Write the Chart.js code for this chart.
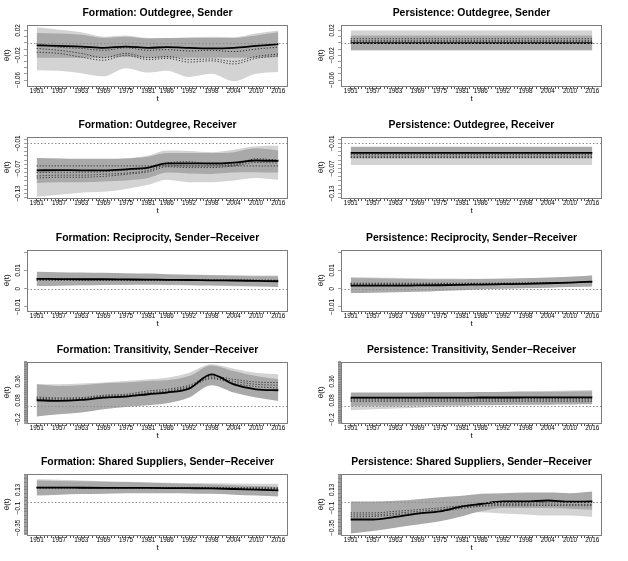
<!DOCTYPE html>
<html>
<head>
<meta charset="utf-8">
<script src="https://cdn.jsdelivr.net/npm/chart.js@4.4.1/dist/chart.umd.min.js"></script>
<style>
  body { margin: 0; background: #fff; }
  #wrap { position: relative; width: 628px; height: 561px; }
  #wrap canvas { position: absolute; }
</style>
</head>
<body>
<div id="wrap"></div>
<script>
// time points and labelled years
const YEARS = [1951, 1957, 1963, 1969, 1975, 1981, 1986, 1992, 1998, 2004, 2010, 2016];
const TICK_YEARS = [1951, 1957, 1963, 1969, 1975, 1981, 1986, 1992, 1998, 2004, 2010, 2016];

const TITLES = [
  'Formation: Outdegree, Sender', 'Persistence: Outdegree, Sender',
  'Formation: Outdegree, Receiver', 'Persistence: Outdegree, Receiver',
  'Formation: Reciprocity, Sender\u2212Receiver', 'Persistence: Reciprocity, Sender\u2212Receiver',
  'Formation: Transitivity, Sender\u2212Receiver', 'Persistence: Transitivity, Sender\u2212Receiver',
  'Formation: Shared Suppliers, Sender\u2212Receiver', 'Persistence: Shared Suppliers, Sender\u2212Receiver'
];

// y axis per row
const Y_MIN = [-0.0696, -0.1407, -0.0122, -0.25, -0.443];
const Y_MAX = [0.0296, 0.0064, 0.0215, 0.65, 0.339];
const Y_LABELS = [[0.02, -0.02, -0.06], [-0.01, -0.07, -0.13], [0.01, 0, -0.01], [0.36, 0.08, -0.2], [0.13, -0.1, -0.35]];
const REF_LINE = [0, -0.01, 0, 0, -0.02];

// Formation: Outdegree, Sender
const fOsLightHi = [0.025, 0.021, 0.017, 0.010, 0.012, 0.008, 0.008, 0.009, 0.010, 0.009, 0.015, 0.020];
const fOsDarkHi  = [0.016, 0.015, 0.013, 0.008, 0.010, 0.007, 0.008, 0.008, 0.008, 0.008, 0.012, 0.017];
const fOsEst     = [-0.004, -0.005, -0.006, -0.008, -0.006, -0.008, -0.007, -0.008, -0.009, -0.008, -0.005, -0.002];
const fOsDarkLo  = [-0.024, -0.024, -0.024, -0.024, -0.023, -0.024, -0.024, -0.024, -0.024, -0.024, -0.024, -0.023];
const fOsLightLo = [-0.044, -0.045, -0.049, -0.054, -0.041, -0.048, -0.045, -0.055, -0.050, -0.062, -0.050, -0.047];
const fOsDot1 = [-0.001, -0.007, -0.009, -0.012, -0.008, -0.012, -0.011, -0.013, -0.012, -0.014, -0.010, -0.007];
const fOsDot2 = [-0.009, -0.012, -0.017, -0.024, -0.017, -0.024, -0.022, -0.027, -0.026, -0.030, -0.022, -0.018];
const fOsDot3 = [-0.015, -0.017, -0.023, -0.028, -0.020, -0.027, -0.025, -0.031, -0.029, -0.034, -0.025, -0.021];

// Persistence: Outdegree, Sender
const pOsLightHi = [0.020, 0.020, 0.020, 0.020, 0.020, 0.020, 0.020, 0.020, 0.020, 0.020, 0.020, 0.020];
const pOsDarkHi  = [0.012, 0.012, 0.012, 0.012, 0.012, 0.012, 0.012, 0.012, 0.012, 0.012, 0.012, 0.012];
const pOsEst     = [-0.0005, -0.0005, -0.0005, -0.0005, -0.0005, -0.0005, -0.0005, -0.0005, -0.0005, -0.0005, -0.0005, -0.0005];
const pOsDarkLo  = [-0.012, -0.012, -0.012, -0.012, -0.012, -0.012, -0.012, -0.012, -0.012, -0.012, -0.012, -0.012];
const pOsLightLo = [-0.012, -0.012, -0.012, -0.012, -0.012, -0.012, -0.012, -0.012, -0.012, -0.012, -0.012, -0.012];
const pOsDot1 = [0.0067, 0.0067, 0.0067, 0.0067, 0.0067, 0.0067, 0.0067, 0.0067, 0.0067, 0.0067, 0.0067, 0.0067];
const pOsDot2 = [0.0040, 0.0040, 0.0040, 0.0040, 0.0040, 0.0040, 0.0040, 0.0040, 0.0040, 0.0040, 0.0040, 0.0040];
const pOsDot3 = [0.0019, 0.0019, 0.0019, 0.0019, 0.0019, 0.0019, 0.0019, 0.0019, 0.0019, 0.0019, 0.0019, 0.0019];

// Formation: Outdegree, Receiver
const fOrLightHi = [-0.046, -0.047, -0.048, -0.048, -0.046, -0.039, -0.027, -0.028, -0.031, -0.025, -0.017, -0.016];
const fOrDarkHi  = [-0.045, -0.046, -0.047, -0.047, -0.046, -0.042, -0.033, -0.033, -0.033, -0.031, -0.022, -0.027];
const fOrEst     = [-0.0745, -0.074, -0.0745, -0.0745, -0.072, -0.068, -0.058, -0.058, -0.058, -0.056, -0.051, -0.052];
const fOrDarkLo  = [-0.105, -0.103, -0.103, -0.101, -0.099, -0.093, -0.080, -0.082, -0.083, -0.080, -0.079, -0.080];
const fOrLightLo = [-0.138, -0.133, -0.128, -0.126, -0.119, -0.109, -0.097, -0.103, -0.103, -0.099, -0.093, -0.097];
const fOrConst = [-0.064, -0.064, -0.064, -0.064, -0.064, -0.064, -0.064, -0.064, -0.064, -0.064, -0.064, -0.064];
const fOrDot1 = [-0.080, -0.079, -0.079, -0.078, -0.074, -0.070, -0.057, -0.054, -0.060, -0.060, -0.047, -0.050];
const fOrDot2 = [-0.088, -0.086, -0.086, -0.084, -0.081, -0.075, -0.062, -0.064, -0.064, -0.062, -0.051, -0.053];
const fOrDot3 = [-0.093, -0.091, -0.091, -0.089, -0.084, -0.078, -0.066, -0.068, -0.068, -0.064, -0.056, -0.057];

// Persistence: Outdegree, Receiver
const pOrLightHi = [-0.020, -0.020, -0.020, -0.020, -0.020, -0.020, -0.020, -0.020, -0.020, -0.020, -0.020, -0.020];
const pOrDarkHi  = [-0.018, -0.018, -0.018, -0.018, -0.018, -0.018, -0.018, -0.018, -0.018, -0.018, -0.018, -0.018];
const pOrEst     = [-0.033, -0.033, -0.033, -0.033, -0.033, -0.033, -0.033, -0.033, -0.033, -0.033, -0.033, -0.033];
const pOrDarkLo  = [-0.046, -0.046, -0.046, -0.046, -0.046, -0.046, -0.046, -0.046, -0.046, -0.046, -0.046, -0.046];
const pOrLightLo = [-0.062, -0.062, -0.062, -0.062, -0.062, -0.062, -0.062, -0.062, -0.062, -0.062, -0.062, -0.062];
const pOrDot1 = [-0.037, -0.037, -0.037, -0.037, -0.037, -0.037, -0.037, -0.037, -0.037, -0.037, -0.037, -0.037];
const pOrDot2 = [-0.041, -0.041, -0.041, -0.041, -0.041, -0.041, -0.041, -0.041, -0.041, -0.041, -0.041, -0.041];
const pOrDot3 = [-0.044, -0.044, -0.044, -0.044, -0.044, -0.044, -0.044, -0.044, -0.044, -0.044, -0.044, -0.044];

// Formation: Reciprocity
const fReLightHi = [0.0085, 0.0083, 0.0081, 0.0080, 0.0079, 0.0078, 0.0077, 0.0076, 0.0075, 0.0074, 0.0073, 0.0072];
const fReDarkHi  = [0.0093, 0.0091, 0.0089, 0.0087, 0.0085, 0.0083, 0.0080, 0.0077, 0.0074, 0.0071, 0.0069, 0.0068];
const fReEst     = [0.0054, 0.0053, 0.0052, 0.0052, 0.0051, 0.0050, 0.0049, 0.0048, 0.0046, 0.0045, 0.0043, 0.0041];
const fReDarkLo  = [0.0015, 0.0017, 0.0019, 0.0021, 0.0022, 0.0023, 0.0022, 0.0021, 0.0019, 0.0016, 0.0013, 0.0010];
const fReLightLo = [0.0022, 0.0022, 0.0022, 0.0021, 0.0021, 0.0020, 0.0019, 0.0018, 0.0016, 0.0014, 0.0012, 0.0010];
const fReDot1 = [0.0050, 0.0050, 0.0049, 0.0049, 0.0048, 0.0048, 0.0047, 0.0046, 0.0045, 0.0044, 0.0043, 0.0042];
const fReDot2 = [0.0046, 0.0046, 0.0046, 0.0046, 0.0046, 0.0046, 0.0046, 0.0045, 0.0045, 0.0045, 0.0045, 0.0045];
const fReDot3 = [0.0056, 0.0055, 0.0054, 0.0053, 0.0052, 0.0051, 0.0050, 0.0049, 0.0049, 0.0048, 0.0048, 0.0047];

// Persistence: Reciprocity
const pReLightHi = [0.0064, 0.0062, 0.0060, 0.0058, 0.0056, 0.0055, 0.0055, 0.0056, 0.0058, 0.0061, 0.0066, 0.0073];
const pReDarkHi  = [0.0059, 0.0057, 0.0055, 0.0053, 0.0052, 0.0052, 0.0053, 0.0055, 0.0057, 0.0060, 0.0065, 0.0072];
const pReEst     = [0.0017, 0.0017, 0.0017, 0.0018, 0.0019, 0.0021, 0.0023, 0.0025, 0.0027, 0.0030, 0.0034, 0.0039];
const pReDarkLo  = [-0.0024, -0.0022, -0.0019, -0.0016, -0.0012, -0.0008, -0.0004, 0.0000, 0.0003, 0.0006, 0.0009, 0.0012];
const pReLightLo = [-0.0020, -0.0018, -0.0016, -0.0013, -0.0010, -0.0006, -0.0002, 0.0002, 0.0005, 0.0008, 0.0011, 0.0014];
const pReDot1 = [0.0030, 0.0030, 0.0030, 0.0030, 0.0030, 0.0030, 0.0030, 0.0031, 0.0032, 0.0033, 0.0035, 0.0037];
const pReDot2 = [0.0026, 0.0026, 0.0026, 0.0026, 0.0027, 0.0027, 0.0028, 0.0029, 0.0030, 0.0032, 0.0034, 0.0036];
const pReDot3 = [0.0022, 0.0022, 0.0022, 0.0023, 0.0024, 0.0025, 0.0026, 0.0027, 0.0029, 0.0031, 0.0033, 0.0036];

// Formation: Transitivity
const fTrLightHi = [0.316, 0.316, 0.327, 0.341, 0.364, 0.389, 0.414, 0.487, 0.608, 0.545, 0.487, 0.462];
const fTrDarkHi  = [0.316, 0.292, 0.302, 0.331, 0.341, 0.364, 0.375, 0.437, 0.593, 0.510, 0.437, 0.389];
const fTrEst     = [0.083, 0.073, 0.087, 0.122, 0.137, 0.171, 0.195, 0.254, 0.462, 0.316, 0.243, 0.229];
const fTrDarkLo  = [-0.155, -0.121, -0.096, -0.048, -0.015, 0.010, 0.039, 0.122, 0.302, 0.195, 0.122, 0.073];
const fTrLightLo = [-0.121, -0.096, -0.073, -0.034, 0.000, 0.025, 0.058, 0.146, 0.316, 0.243, 0.171, 0.146];
const fTrDot1 = [0.131, 0.117, 0.122, 0.156, 0.171, 0.219, 0.243, 0.302, 0.437, 0.389, 0.350, 0.341];
const fTrDot2 = [0.112, 0.102, 0.108, 0.141, 0.156, 0.195, 0.219, 0.283, 0.414, 0.360, 0.316, 0.302];
const fTrDot3 = [0.098, 0.087, 0.098, 0.131, 0.146, 0.181, 0.204, 0.268, 0.399, 0.331, 0.283, 0.262];

// Persistence: Transitivity
const pTrLightHi = [0.180, 0.183, 0.186, 0.190, 0.194, 0.198, 0.203, 0.208, 0.213, 0.218, 0.225, 0.232];
const pTrDarkHi  = [0.195, 0.196, 0.197, 0.198, 0.199, 0.200, 0.202, 0.204, 0.206, 0.208, 0.212, 0.215];
const pTrEst     = [0.120, 0.120, 0.121, 0.121, 0.122, 0.122, 0.123, 0.123, 0.124, 0.124, 0.125, 0.125];
const pTrDarkLo  = [0.000, 0.002, 0.004, 0.006, 0.008, 0.010, 0.012, 0.014, 0.016, 0.018, 0.021, 0.024];
const pTrLightLo = [-0.063, -0.050, -0.038, -0.026, -0.015, -0.005, 0.005, 0.015, 0.025, 0.037, 0.052, 0.068];
const pTrDot1 = [0.108, 0.108, 0.108, 0.108, 0.108, 0.108, 0.108, 0.108, 0.108, 0.108, 0.108, 0.108];
const pTrDot2 = [0.087, 0.087, 0.087, 0.087, 0.087, 0.087, 0.087, 0.087, 0.087, 0.087, 0.087, 0.087];
const pTrDot3 = [0.068, 0.068, 0.068, 0.068, 0.068, 0.068, 0.068, 0.068, 0.068, 0.068, 0.068, 0.068];

// Formation: Shared Suppliers
const fSsLightHi = [0.265, 0.258, 0.250, 0.242, 0.235, 0.228, 0.222, 0.218, 0.215, 0.212, 0.210, 0.210];
const fSsDarkHi  = [0.250, 0.245, 0.240, 0.235, 0.230, 0.222, 0.215, 0.207, 0.198, 0.190, 0.180, 0.172];
const fSsEst     = [0.159, 0.159, 0.158, 0.157, 0.156, 0.155, 0.154, 0.152, 0.149, 0.142, 0.133, 0.125];
const fSsDarkLo  = [0.060, 0.070, 0.078, 0.083, 0.087, 0.088, 0.088, 0.085, 0.080, 0.070, 0.058, 0.046];
const fSsLightLo = [0.075, 0.080, 0.085, 0.088, 0.090, 0.092, 0.093, 0.094, 0.094, 0.093, 0.090, 0.087];
const fSsDot1 = [0.165, 0.164, 0.163, 0.162, 0.161, 0.161, 0.160, 0.160, 0.160, 0.159, 0.158, 0.157];
const fSsDot2 = [0.160, 0.160, 0.160, 0.159, 0.158, 0.157, 0.156, 0.155, 0.154, 0.152, 0.150, 0.148];
const fSsDot3 = [0.154, 0.154, 0.154, 0.154, 0.154, 0.153, 0.152, 0.150, 0.148, 0.145, 0.142, 0.139];

// Persistence: Shared Suppliers
const pSsLightHi = [-0.037, -0.037, -0.029, -0.017, -0.004, 0.013, 0.026, 0.038, 0.038, 0.046, 0.038, 0.026];
const pSsDarkHi  = [-0.017, -0.017, -0.008, 0.013, 0.038, 0.055, 0.080, 0.088, 0.097, 0.097, 0.088, 0.109];
const pSsEst     = [-0.246, -0.246, -0.212, -0.171, -0.142, -0.079, -0.049, -0.017, -0.017, -0.004, -0.020, -0.017];
const pSsDarkLo  = [-0.425, -0.392, -0.350, -0.309, -0.267, -0.204, -0.142, -0.099, -0.099, -0.099, -0.108, -0.121];
const pSsLightLo = [-0.225, -0.212, -0.196, -0.183, -0.171, -0.162, -0.154, -0.171, -0.183, -0.196, -0.196, -0.212];
const pSsDot1 = [-0.162, -0.162, -0.142, -0.121, -0.099, -0.070, -0.049, -0.037, -0.037, -0.029, -0.029, -0.029];
const pSsDot2 = [-0.187, -0.187, -0.167, -0.142, -0.121, -0.087, -0.067, -0.054, -0.054, -0.049, -0.054, -0.054];
const pSsDot3 = [-0.212, -0.208, -0.187, -0.162, -0.142, -0.104, -0.079, -0.070, -0.070, -0.067, -0.070, -0.070];

const PANELS = [
  { lightHi: fOsLightHi, lightLo: fOsLightLo, darkHi: fOsDarkHi, darkLo: fOsDarkLo, est: fOsEst, dots: [fOsDot1, fOsDot2, fOsDot3] },
  { lightHi: pOsLightHi, lightLo: pOsLightLo, darkHi: pOsDarkHi, darkLo: pOsDarkLo, est: pOsEst, dots: [pOsDot1, pOsDot2, pOsDot3] },
  { lightHi: fOrLightHi, lightLo: fOrLightLo, darkHi: fOrDarkHi, darkLo: fOrDarkLo, est: fOrEst, dots: [fOrConst, fOrDot1, fOrDot2, fOrDot3] },
  { lightHi: pOrLightHi, lightLo: pOrLightLo, darkHi: pOrDarkHi, darkLo: pOrDarkLo, est: pOrEst, dots: [pOrDot1, pOrDot2, pOrDot3] },
  { lightHi: fReLightHi, lightLo: fReLightLo, darkHi: fReDarkHi, darkLo: fReDarkLo, est: fReEst, dots: [fReDot1, fReDot2, fReDot3] },
  { lightHi: pReLightHi, lightLo: pReLightLo, darkHi: pReDarkHi, darkLo: pReDarkLo, est: pReEst, dots: [pReDot1, pReDot2, pReDot3] },
  { lightHi: fTrLightHi, lightLo: fTrLightLo, darkHi: fTrDarkHi, darkLo: fTrDarkLo, est: fTrEst, dots: [fTrDot1, fTrDot2, fTrDot3] },
  { lightHi: pTrLightHi, lightLo: pTrLightLo, darkHi: pTrDarkHi, darkLo: pTrDarkLo, est: pTrEst, dots: [pTrDot1, pTrDot2, pTrDot3] },
  { lightHi: fSsLightHi, lightLo: fSsLightLo, darkHi: fSsDarkHi, darkLo: fSsDarkLo, est: fSsEst, dots: [fSsDot1, fSsDot2, fSsDot3] },
  { lightHi: pSsLightHi, lightLo: pSsLightLo, darkHi: pSsDarkHi, darkLo: pSsDarkLo, est: pSsEst, dots: [pSsDot1, pSsDot2, pSsDot3] }
];

const FONT = '"Liberation Sans", Arial, Helvetica, sans-serif';
const ROW_TOP = [0, 112, 225, 337, 449];
const LIGHT = '#d3d3d3';
const DARK = '#a9a9a9';

const toPts = arr => YEARS.map((x, i) => ({ x: x, y: arr[i] }));

// box, title, rotated y labels and reference line, drawn R-style
const panelDecor = {
  id: 'panelDecor',
  afterDatasetsDraw(chart, args, opts) {
    const { ctx, chartArea: a, scales: { y } } = chart;
    const ry = Math.round(y.getPixelForValue(opts.ref)) + 0.5;
    ctx.save();
    ctx.strokeStyle = '#8c8c8c';
    ctx.lineWidth = 1;
    ctx.setLineDash([1.5, 2]);
    ctx.beginPath();
    ctx.moveTo(a.left, ry);
    ctx.lineTo(a.right, ry);
    ctx.stroke();
    ctx.restore();
  },
  afterDraw(chart, args, opts) {
    const { ctx, chartArea: a, scales: { y } } = chart;
    ctx.save();
    ctx.strokeStyle = '#7c7c7c';
    ctx.lineWidth = 1;
    ctx.strokeRect(Math.round(a.left) + 0.5, Math.round(a.top) + 0.5, Math.round(a.right - a.left) - 1, Math.round(a.bottom - a.top) - 1);
    ctx.fillStyle = '#000';
    ctx.textAlign = 'center';
    ctx.textBaseline = 'middle';
    ctx.font = 'bold 10.4px ' + FONT;
    ctx.fillText(opts.title, (a.left + a.right) / 2, 13);
    ctx.font = '6.3px ' + FONT;
    opts.labels.forEach(v => {
      ctx.save();
      ctx.translate(18.3, y.getPixelForValue(v));
      ctx.rotate(-Math.PI / 2);
      ctx.fillText(String(v).replace('-', '\u2212'), 0, 0);
      ctx.restore();
    });
    ctx.restore();
  }
};

const wrap = document.getElementById('wrap');

PANELS.forEach((p, i) => {
  const row = Math.floor(i / 2);
  const canvas = document.createElement('canvas');
  canvas.width = 314;
  canvas.height = 112;
  canvas.style.left = (i % 2 === 0 ? 0 : 314) + 'px';
  canvas.style.top = ROW_TOP[row] + 'px';
  wrap.appendChild(canvas);

  const band = (arr, color, fill, order) => ({
    data: toPts(arr), borderWidth: 0, pointRadius: 0, backgroundColor: color,
    fill: fill, order: order, cubicInterpolationMode: 'monotone'
  });
  const datasets = [
    band(p.lightHi, LIGHT, '+1', 4),
    band(p.lightLo, LIGHT, false, 4),
    band(p.darkHi, DARK, '+1', 3),
    band(p.darkLo, DARK, false, 3)
  ];
  p.dots.forEach(d => datasets.push({
    data: toPts(d), borderColor: '#303030', borderWidth: 1, borderDash: [1.2, 1.8],
    pointRadius: 0, fill: false, order: 1, cubicInterpolationMode: 'monotone'
  }));
  datasets.push({
    data: toPts(p.est), borderColor: '#000', borderWidth: 1.8,
    pointRadius: 0, fill: false, order: 0, cubicInterpolationMode: 'monotone'
  });

  const yMin = Y_MIN[row], yMax = Y_MAX[row];

  new Chart(canvas, {
    type: 'line',
    data: { datasets: datasets },
    options: {
      responsive: false,
      devicePixelRatio: 1,
      animation: false,
      layout: { padding: { top: 24.5, right: 26, bottom: 8, left: 0 } },
      plugins: {
        legend: { display: false },
        tooltip: { enabled: false },
        panelDecor: { title: TITLES[i], labels: Y_LABELS[row], ref: REF_LINE[row] }
      },
      scales: {
        x: {
          type: 'linear',
          min: 1948.4,
          max: 2018.6,
          afterBuildTicks: s => {
            const t = [];
            for (let yr = 1951; yr <= 2016; yr++) t.push({ value: yr });
            s.ticks = t;
          },
          afterFit: s => { s.height = 18; },
          ticks: {
            autoSkip: false, maxRotation: 0, minRotation: 0, padding: -2,
            color: '#000', font: { family: FONT, size: 6.3 },
            callback: v => TICK_YEARS.includes(v) ? String(v) : ''
          },
          grid: { drawOnChartArea: false, drawTicks: true, tickLength: 3, color: '#555' },
          border: { display: false },
          title: { display: true, text: 't', color: '#000', font: { family: FONT, size: 8 }, padding: { top: 0, bottom: 0 } }
        },
        y: {
          type: 'linear',
          min: yMin,
          max: yMax,
          afterBuildTicks: s => {
            const t = [];
            for (let k = Math.ceil(yMin * 100); k <= Math.floor(yMax * 100); k++) t.push({ value: k / 100 });
            s.ticks = t;
          },
          afterFit: s => { s.width = 27; },
          ticks: { display: false },
          grid: { drawOnChartArea: false, drawTicks: true, tickLength: 3, color: '#777', lineWidth: 0.7 },
          border: { display: false },
          title: { display: true, text: '\u03b8(t)', color: '#000', font: { family: FONT, size: 8 }, padding: { top: 1.6, bottom: 0 } }
        }
      }
    },
    plugins: [panelDecor]
  });
});
</script>
</body>
</html>
